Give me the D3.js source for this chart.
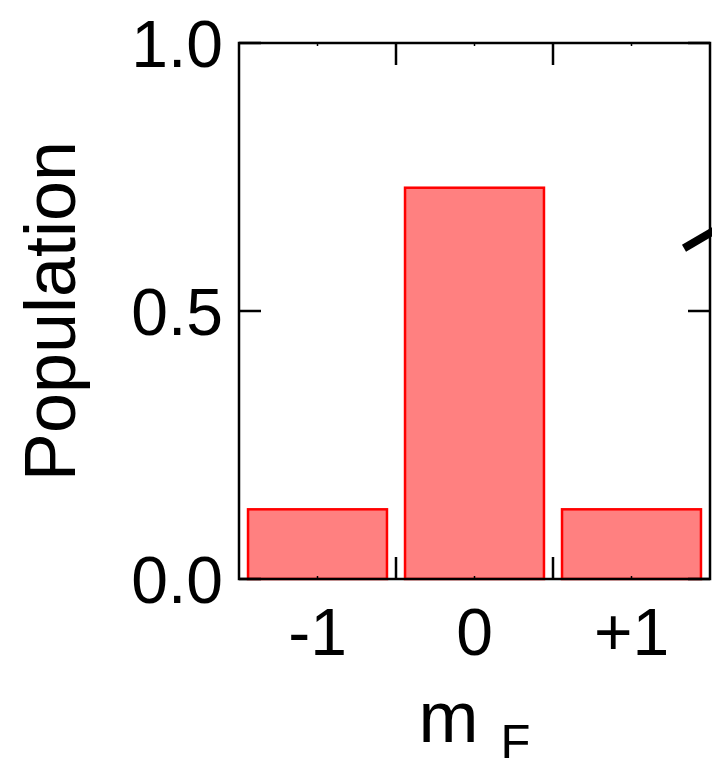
<!DOCTYPE html>
<html>
<head>
<meta charset="utf-8">
<script src="https://cdn.jsdelivr.net/npm/d3@7"></script>
<style>
  html, body { margin: 0; padding: 0; background: #fff; }
  svg { display: block; font-family: "Liberation Sans", Arial, sans-serif; }
</style>
</head>
<body>
<div id="container"></div>
<script>
// chart data
var categories = ["-1", "0", "+1"];
var population = [0.13, 0.73, 0.13];
var yTicks = [0.0, 0.5, 1.0];
var yTickLabels = ["0.0", "0.5", "1.0"];

var width = 712, height = 767;
var plotLeft = 239, plotRight = 710, plotTop = 43, plotBottom = 579;

var svg = d3.select("#container").append("svg")
  .attr("width", width)
  .attr("height", height);

var x = d3.scaleBand().domain(categories).range([plotLeft, plotRight]).padding(0);
var y = d3.scaleLinear().domain([0, 1]).range([plotBottom, plotTop]);

var barW = x.bandwidth() * 0.885;

// bars
svg.selectAll(".bar")
  .data(population)
  .enter().append("rect")
    .attr("class", "bar")
    .attr("x", (d, i) => x(categories[i]) + (x.bandwidth() - barW) / 2)
    .attr("y", d => y(d))
    .attr("width", barW)
    .attr("height", d => y(0) - y(d))
    .attr("fill", "#ff8080")
    .attr("stroke", "#ff0000")
    .attr("stroke-width", 2.5);

// frame
svg.append("rect")
  .attr("x", plotLeft).attr("y", plotTop)
  .attr("width", plotRight - plotLeft).attr("height", plotBottom - plotTop)
  .attr("fill", "none").attr("stroke", "#000").attr("stroke-width", 2.5);

var tickLen = 22;

// x ticks at category boundaries (top and bottom, pointing in)
var bounds = categories.slice(1).map(c => x(c));
bounds.forEach(function (bx) {
  svg.append("line").attr("x1", bx).attr("x2", bx)
    .attr("y1", plotBottom).attr("y2", plotBottom - tickLen)
    .attr("stroke", "#000").attr("stroke-width", 2.5);
  svg.append("line").attr("x1", bx).attr("x2", bx)
    .attr("y1", plotTop).attr("y2", plotTop + tickLen)
    .attr("stroke", "#000").attr("stroke-width", 2.5);
});

// minor x ticks at category centres
categories.forEach(function (c) {
  var cx = x(c) + x.bandwidth() / 2;
  svg.append("line").attr("x1", cx).attr("x2", cx)
    .attr("y1", plotBottom).attr("y2", plotBottom - 3)
    .attr("stroke", "#000").attr("stroke-width", 1.5);
  svg.append("line").attr("x1", cx).attr("x2", cx)
    .attr("y1", plotTop).attr("y2", plotTop + 3)
    .attr("stroke", "#000").attr("stroke-width", 1.5);
});

// y ticks, left and right
yTicks.forEach(function (t) {
  svg.append("line").attr("x1", plotLeft).attr("x2", plotLeft + tickLen)
    .attr("y1", y(t)).attr("y2", y(t))
    .attr("stroke", "#000").attr("stroke-width", 2.5);
  svg.append("line").attr("x1", plotRight).attr("x2", plotRight - tickLen)
    .attr("y1", y(t)).attr("y2", y(t))
    .attr("stroke", "#000").attr("stroke-width", 2.5);
});

// y tick labels
svg.selectAll(".ylab")
  .data(yTicks)
  .enter().append("text")
    .attr("class", "ylab")
    .attr("x", plotLeft - 16)
    .attr("y", d => y(d))
    .attr("dy", "0.36em")
    .attr("text-anchor", "end")
    .attr("font-size", 66)
    .text((d, i) => yTickLabels[i]);

// x tick labels
svg.selectAll(".xlab")
  .data(categories)
  .enter().append("text")
    .attr("class", "xlab")
    .attr("x", d => x(d) + x.bandwidth() / 2)
    .attr("y", 655)
    .attr("text-anchor", "middle")
    .attr("font-size", 66)
    .text(d => d);

// axis titles
svg.append("text")
  .attr("transform", "translate(75," + ((plotTop + plotBottom) / 2) + ") rotate(-90)")
  .attr("text-anchor", "middle")
  .attr("font-size", 72)
  .text("Population");

var xt = svg.append("text")
  .attr("x", (plotLeft + plotRight) / 2)
  .attr("y", 742)
  .attr("text-anchor", "middle")
  .attr("font-size", 72);
xt.append("tspan").text("m");
xt.append("tspan").attr("font-size", 49).attr("dx", 22).attr("dy", 16).text("F");

// stray stroke at the right edge (from neighbouring panel)
svg.append("line")
  .attr("x1", plotRight - 26).attr("y1", y(0.617))
  .attr("x2", width + 2).attr("y2", y(0.65))
  .attr("stroke", "#000").attr("stroke-width", 8);
</script>
</body>
</html>
